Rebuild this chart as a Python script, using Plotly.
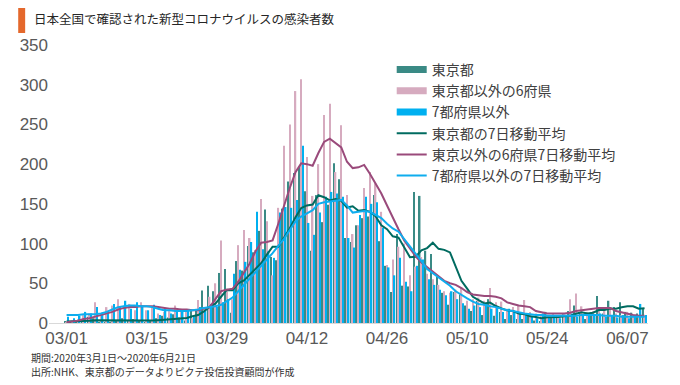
import pandas as pd
import plotly.graph_objects as go

# ---- data (Mar 1 - Jun 10, 2020) ----
dates = list(pd.date_range("2020-03-01", "2020-06-10").strftime("%m/%d"))
tick_labels = ["03/01", "03/15", "03/29", "04/12", "04/26", "05/10", "05/24", "06/07"]

tokyo = [2, 1, 2, 3, 8, 6, 1, 1, 1, 3,
         6, 3, 5, 2, 1, 2, 6, 9, 7, 11,
         7, 3, 16, 17, 41, 47, 40, 63, 68, 13,
         78, 66, 97, 89, 116, 143, 83, 79, 144, 178,
         189, 197, 166, 91, 161, 127, 149, 201, 181, 107,
         102, 123, 132, 134, 161, 103, 72, 39, 112, 47,
         46, 165, 160, 91, 87, 58, 38, 23, 39, 36,
         22, 15, 28, 10, 30, 9, 14, 5, 10, 5,
         5, 11, 3, 2, 14, 8, 10, 11, 15, 22,
         14, 5, 13, 34, 12, 28, 20, 26, 14, 13,
         12, 18]

six_pref = [1, 3, 5, 10, 12, 26, 12, 20, 22, 30,
            18, 24, 16, 26, 16, 21, 12, 14, 15, 22,
            18, 16, 6, 29, 14, 33, 50, 104, 40, 30,
            98, 117, 107, 92, 156, 128, 60, 145, 223, 250,
            292, 307, 209, 160, 200, 262, 276, 190, 249, 161,
            112, 123, 170, 190, 176, 140, 73, 80, 96, 100,
            60, 71, 83, 62, 55, 48, 40, 38, 42, 45,
            28, 30, 32, 28, 44, 26, 27, 18, 20, 22,
            29, 14, 12, 10, 8, 12, 10, 11, 30, 37,
            21, 14, 15, 18, 16, 18, 12, 10, 14, 8,
            7, 9]

others = [8, 6, 9, 14, 12, 20, 12, 14, 24, 20,
          28, 18, 26, 22, 16, 23, 10, 18, 12, 16,
          14, 17, 8, 20, 15, 24, 20, 26, 30, 62,
          67, 77, 102, 140, 93, 90, 82, 139, 146, 145,
          155, 223, 126, 111, 139, 159, 165, 163, 159, 107,
          95, 136, 159, 150, 152, 120, 70, 60, 82, 52,
          40, 72, 80, 55, 48, 42, 35, 40, 30, 25,
          18, 22, 20, 25, 18, 20, 14, 18, 15, 12,
          10, 8, 6, 12, 8, 10, 6, 9, 12, 8,
          10, 11, 10, 12, 8, 9, 7, 10, 6, 8,
          24, 10]

tokyo_ma = [2.0, 2.0, 2.0, 2.1, 2.9, 3.4, 3.3, 3.1, 3.1, 3.3,
            3.7, 3.0, 2.9, 3.0, 3.0, 3.1, 3.6, 4.0, 4.6, 5.4,
            6.1, 6.4, 8.4, 10.0, 14.6, 20.3, 24.4, 32.4, 41.7, 41.3,
            50.0, 53.6, 60.7, 67.7, 75.3, 86.0, 96.0, 96.1, 107.3, 118.9,
            133.1, 144.7, 148.0, 149.1, 160.9, 158.4, 154.3, 156.0, 153.7, 145.3,
            146.9, 141.4, 142.1, 140.0, 134.3, 123.1, 118.1, 109.1, 107.6, 95.4,
            82.9, 83.4, 91.6, 94.3, 101.1, 93.4, 92.1, 88.9, 70.9, 53.1,
            43.3, 33.0, 28.7, 24.7, 25.7, 21.4, 18.3, 15.9, 15.1, 11.9,
            11.1, 8.4, 7.6, 5.9, 7.1, 6.9, 7.6, 8.4, 9.0, 11.7,
            13.4, 12.1, 12.9, 16.3, 16.4, 18.3, 18.0, 19.7, 21.0, 21.0,
            17.9, 18.7]

six_pref_ma = [1, 2, 3, 5, 6, 8, 10, 12, 14, 17,
               19, 20, 20, 21, 21, 21, 20, 19, 18, 18,
               17, 17, 16, 16, 18, 20, 30, 40, 42, 43,
               52, 64, 75, 90, 101, 102, 104, 125, 148, 170,
               190, 201, 200, 198, 214, 228, 232, 226, 221, 203,
               195, 196, 199, 188, 175, 163, 148, 132, 118, 104,
               94, 84, 76, 70, 64, 59, 53, 50, 48, 44,
               39, 36, 35, 34, 34, 33, 31, 26, 24, 22,
               21, 20, 15, 13, 12, 12, 12, 12, 13, 15,
               16, 17, 18, 19, 19, 19, 15, 13, 11, 10,
               9, 9]

others_ma = [10, 10, 10, 11, 11, 11, 12, 14, 17, 20,
             21, 22, 22, 21, 21, 20, 18, 16, 16, 15,
             15, 15, 16, 17, 19, 20, 21, 23, 27, 32,
             40, 48, 56, 64, 71, 80, 88, 97, 106, 117,
             128, 134, 138, 142, 150, 152, 153, 154, 155, 148,
             139, 140, 141, 140, 136, 132, 125, 119, 115, 106,
             96, 88, 78, 68, 63, 58, 52, 47, 40, 35,
             31, 27, 24, 23, 21, 20, 18, 16, 15, 13,
             12, 11, 10, 10, 9, 9, 9, 9, 9, 9,
             10, 10, 10, 10, 9, 9, 9, 8, 8, 8,
             8, 8]

names = ["東京都", "東京都以外の6府県", "7都府県以外",
         "東京都の7日移動平均", "東京以外の6府県7日移動平均", "7都府県以外の7日移動平均"]

# ---- styles ----
C_TOKYO_BAR = "#3a8a85"
C_PREF_BAR = "#d6abbf"
C_OTHER_BAR = "#00b0f0"
C_TOKYO_LINE = "#006b60"
C_PREF_LINE = "#9a4a7b"
C_OTHER_LINE = "#0fadee"

day_index = list(range(len(dates)))
tick_pos = [dates.index(t) for t in tick_labels]

fig = go.Figure()
for vals, col in [(tokyo, C_TOKYO_BAR), (six_pref, C_PREF_BAR), (others, C_OTHER_BAR)]:
    fig.add_trace(go.Bar(x=day_index, y=vals, marker=dict(color=col, line=dict(width=0)),
                         customdata=dates, showlegend=False))
for vals, col in [(tokyo_ma, C_TOKYO_LINE), (six_pref_ma, C_PREF_LINE), (others_ma, C_OTHER_LINE)]:
    fig.add_trace(go.Scatter(x=day_index, y=vals, mode="lines", line=dict(color=col, width=2),
                             customdata=dates, showlegend=False))

# legend entries (wide rectangles for the bar series, lines for averages)
legend_styles = [(C_TOKYO_BAR, 7), (C_PREF_BAR, 7), (C_OTHER_BAR, 7),
                 (C_TOKYO_LINE, 2), (C_PREF_LINE, 2), (C_OTHER_LINE, 2)]
for name, (col, w) in zip(names, legend_styles):
    fig.add_trace(go.Scatter(x=[None], y=[None], mode="lines", name=name,
                             line=dict(color=col, width=w)))

OFF = 8  # page offset of the figure inside the browser window
W, H = 680 - OFF, 385 - OFF
L, R, T, B = 45 - OFF, 32, 45 - OFF, 62
pw, ph = W - L - R, H - T - B


def px_x(x):
    return (x - OFF - L) / pw


def px_y(y):
    return (H - B - (y - OFF)) / ph


fig.update_layout(
    width=W, height=H,
    margin=dict(l=L, r=R, t=T, b=B),
    plot_bgcolor="white", paper_bgcolor="white",
    barmode="group", bargap=0.12, bargroupgap=0.1,
    font=dict(family="Noto Sans CJK JP, sans-serif", color="#404040"),
    legend=dict(x=px_x(390), y=px_y(54), xanchor="left", yanchor="top",
                font=dict(size=14, color="#404040", family="Noto Sans CJK JP"),
                bgcolor="rgba(0,0,0,0)", itemwidth=30, tracegroupgap=0),
    xaxis=dict(range=[-3.07, 101.6], tickmode="array",
               tickvals=tick_pos, ticktext=tick_labels, showgrid=False, zeroline=False,
               showline=True, linecolor="#d9d9d9", linewidth=1, ticks="",
               tickfont=dict(family="Liberation Sans", size=17, color="#595959")),
    yaxis=dict(range=[0, 350], dtick=50, showgrid=False, zeroline=False, showline=False,
               ticks="", tickfont=dict(family="Liberation Sans", size=17, color="#595959")),
    shapes=[dict(type="rect", xref="paper", yref="paper",
                 x0=px_x(14), x1=px_x(21), y0=px_y(33), y1=px_y(6),
                 fillcolor="#e4682c", line=dict(width=0))],
    annotations=[
        dict(text="日本全国で確認された新型コロナウイルスの感染者数", xref="paper", yref="paper",
             x=px_x(28), y=px_y(19), xanchor="left", yanchor="middle", showarrow=False,
             font=dict(size=12.5, color="#262626", family="Noto Sans CJK JP")),
        dict(text="期間:2020年3月1日～2020年6月21日", xref="paper", yref="paper",
             x=px_x(25), y=px_y(357), xanchor="left", yanchor="middle", showarrow=False,
             font=dict(size=10, color="#333333", family="Noto Sans CJK JP")),
        dict(text="出所:NHK、東京都のデータよりピクテ投信投資顧問が作成", xref="paper", yref="paper",
             x=px_x(25), y=px_y(371), xanchor="left", yanchor="middle", showarrow=False,
             font=dict(size=10, color="#333333", family="Noto Sans CJK JP")),
    ],
)

fig.write_html("out.html")
